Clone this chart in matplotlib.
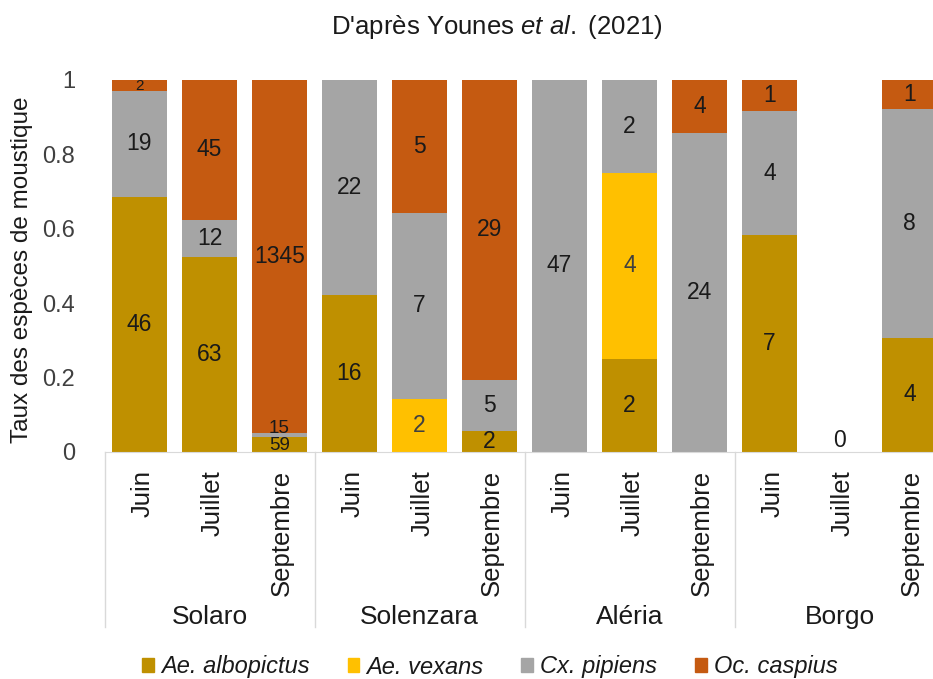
import numpy as np
import matplotlib.pyplot as plt
from matplotlib.patches import Patch
import matplotlib.transforms as mtransforms

plt.rcParams['font.family'] = ['Liberation Sans', 'DejaVu Sans']
plt.rcParams['mathtext.fontset'] = 'custom'
plt.rcParams['mathtext.rm'] = 'Liberation Sans'
plt.rcParams['mathtext.it'] = 'Liberation Sans:italic'

# data: mosquito counts per site / month
sites = ['Solaro', 'Solenzara', 'Aléria', 'Borgo']
months = ['Juin', 'Juillet', 'Septembre']
species = ['Ae. albopictus', 'Ae. vexans', 'Cx. pipiens', 'Oc. caspius']
albopictus = [46, 63, 59, 16, 0, 2, 0, 2, 0, 7, 0, 4]
vexans = [0, 0, 0, 0, 2, 0, 0, 4, 0, 0, 0, 0]
pipiens = [19, 12, 15, 22, 7, 5, 47, 2, 24, 4, 0, 8]
caspius = [2, 45, 1345, 0, 5, 29, 0, 0, 4, 1, 0, 1]
colors = ['#BF9000', '#FFC000', '#A5A5A5', '#C55A11']

counts = np.array([albopictus, vexans, pipiens, caspius], dtype=float)
totals = counts.sum(axis=0)
props = np.divide(counts, totals, out=np.zeros_like(counts), where=totals > 0)

W, H = 933, 679
fig = plt.figure(figsize=(W / 100, H / 100), dpi=100)
x0, y0, y1 = 104.5, 452, 80
slot = 70
ax = fig.add_axes([x0 / W, (H - y0) / H, (W - x0) / W, (y0 - y1) / H])
n = len(albopictus)
x = np.arange(n)
ax.set_xlim(-0.5, -0.5 + (W - x0) / slot)
ax.set_ylim(0, 1)

bottom = np.zeros(n)
for k in range(4):
    ax.bar(x, props[k], 0.79, bottom=bottom, color=colors[k], zorder=2)
    for i in range(n):
        c = counts[k, i]
        if c > 0:
            yc = bottom[i] + props[k, i] / 2
            fs = 16.5
            if props[k, i] < 0.05:
                fs = 11 if k == 3 and i == 0 else 13.5
            if k == 2 and i == 2:
                yc += 0.016
            if k == 0 and i == 2:
                yc -= 0.003
            col = '#404040' if k == 1 else '#1a1a1a'
            ax.text(i, yc, str(int(c)), ha='center', va='center',
                    fontsize=fs, color=col, zorder=3)
    bottom += props[k]
for i in range(n):
    if totals[i] == 0:
        ax.text(i, 0.0, '0', ha='center', va='bottom', fontsize=16.5,
                color='#1a1a1a')

for s in ['top', 'right', 'left']:
    ax.spines[s].set_visible(False)
ax.spines['bottom'].set_color('#d9d9d9')
ax.set_xticks([])
ax.set_yticks([0, 0.2, 0.4, 0.6, 0.8, 1])
ax.set_yticklabels(['0', '0.2', '0.4', '0.6', '0.8', '1'])
ax.tick_params(axis='y', length=0, pad=21, labelsize=17, labelcolor='#404040')

# multi-level category axis
trans = mtransforms.blended_transform_factory(ax.transData, ax.transAxes)
hpx = y0 - y1
for g in range(len(sites) + 1):
    xs = g * 3 - 0.5
    ax.plot([xs, xs], [0, -(627 - y0) / hpx], color='#d9d9d9', lw=1,
            transform=trans, clip_on=False)
for i in range(n):
    ax.text(i + 0.04, -(470 - y0) / hpx, months[i % 3], rotation=90,
            ha='center', va='top', fontsize=18.5, color='#1a1a1a',
            transform=trans)
for g, s in enumerate(sites):
    ax.text(g * 3 + 1, -(617 - y0) / hpx, s, ha='center', va='center',
            fontsize=19, color='#1a1a1a', transform=trans)

fig.text(22 / W, 1 - 270 / H, 'Taux des espèces de moustique', rotation=90,
         ha='center', va='center', fontsize=17.5, color='#1a1a1a')
fig.text(497 / W, 1 - 27 / H, r"D'après Younes $\it{et\ al.}$ (2021)",
         ha='center', va='center', fontsize=18.5, color='#1a1a1a')

handles = [Patch(color=c) for c in colors]
fig.legend(handles, species, loc='center', bbox_to_anchor=(490 / W, 1 - 667 / H),
           ncol=4, frameon=False, prop={'style': 'italic', 'size': 17},
           handlelength=0.5, handleheight=0.5, handletextpad=0.3,
           columnspacing=1.6, labelcolor='#1a1a1a')

fig.savefig('out.png', dpi=100)
